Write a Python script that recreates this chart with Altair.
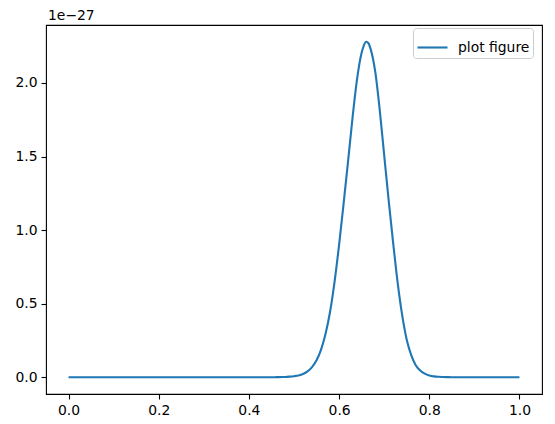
import altair as alt
import pandas as pd

# x positions and curve values (in units of 1e-27)
x_vals = [0.0, 0.10, 0.20, 0.30, 0.40, 0.45, 0.46, 0.47, 0.48, 0.49,
          0.50, 0.51, 0.52, 0.53, 0.54, 0.55, 0.56, 0.57, 0.58, 0.59,
          0.60, 0.61, 0.62, 0.63, 0.64, 0.65, 0.655, 0.66, 0.665, 0.67,
          0.68, 0.69, 0.70, 0.71, 0.72, 0.73, 0.74, 0.75, 0.76, 0.77,
          0.78, 0.79, 0.80, 0.81, 0.82, 0.83, 0.84, 0.85, 0.90, 0.95,
          1.0]
y_mant = [0.0, 0.0, 0.0, 0.0, 0.0, 0.0, 0.0004, 0.001, 0.002, 0.004,
          0.007, 0.012, 0.022, 0.040, 0.069, 0.115, 0.188, 0.295, 0.445, 0.65,
          0.90, 1.18, 1.47, 1.77, 2.03, 2.205, 2.255, 2.28, 2.27, 2.23,
          2.08, 1.82, 1.51, 1.20, 0.91, 0.64, 0.42, 0.255, 0.15, 0.082,
          0.045, 0.024, 0.012, 0.006, 0.003, 0.0015, 0.0006, 0.0, 0.0, 0.0,
          0.0]
exponent = -27
series_name = "plot figure"
x_ticks = [0.0, 0.2, 0.4, 0.6, 0.8, 1.0]
y_ticks_mant = [0.0, 0.5, 1.0, 1.5, 2.0]

scale = 10.0 ** exponent
df = pd.DataFrame({
    "x": x_vals,
    "y": [v * scale for v in y_mant],
    "series": [series_name] * len(x_vals),
})

FONT = "DejaVu Sans"
FS = 13.9

line = alt.Chart(df).mark_line(strokeWidth=2.1, interpolate="monotone").encode(
    x=alt.X("x:Q",
            scale=alt.Scale(domain=[-0.05, 1.05], nice=False, zero=False),
            axis=alt.Axis(values=x_ticks, format=".1f", title=None, grid=False,
                          domain=False, tickSize=5, tickWidth=1.1, tickColor="black",
                          labelPadding=4, labelFont=FONT, labelFontSize=FS,
                          labelColor="black")),
    y=alt.Y("y:Q",
            scale=alt.Scale(domain=[-0.114 * scale, 2.394 * scale], nice=False, zero=False),
            axis=alt.Axis(values=[v * scale for v in y_ticks_mant],
                          labelExpr="format(datum.value * 1e27, '.1f')",
                          title=None, grid=False, domain=False, tickSize=5,
                          tickWidth=1.1, tickColor="black", labelPadding=4,
                          labelFont=FONT, labelFontSize=FS, labelColor="black")),
    color=alt.Color("series:N",
                    scale=alt.Scale(domain=[series_name], range=["#1f77b4"]),
                    legend=alt.Legend(title=None, orient="none", legendX=367,
                                      legendY=3, padding=3, strokeColor="#cccccc",
                                      cornerRadius=3, fillColor="white",
                                      symbolType="stroke", symbolStrokeWidth=2.1,
                                      symbolSize=900, labelFont=FONT,
                                      labelFontSize=FS, labelColor="black",
                                      labelOffset=9)),
)

offset_df = pd.DataFrame({"t": ["1e\u221227"]})
offset_text = alt.Chart(offset_df).mark_text(
    align="left", baseline="alphabetic", font=FONT, fontSize=FS, color="black"
).encode(
    x=alt.value(2),
    y=alt.value(-5),
    text="t:N",
)

chart = alt.layer(line, offset_text).properties(
    width=496,
    height=369,
    autosize=alt.AutoSizeParams(type="none"),
    padding={"left": 38, "top": 17, "right": 5, "bottom": 22},
).configure_view(
    stroke="black", strokeWidth=1.1
)

chart.save("out.html", embed_options={"renderer": "svg", "actions": False})
